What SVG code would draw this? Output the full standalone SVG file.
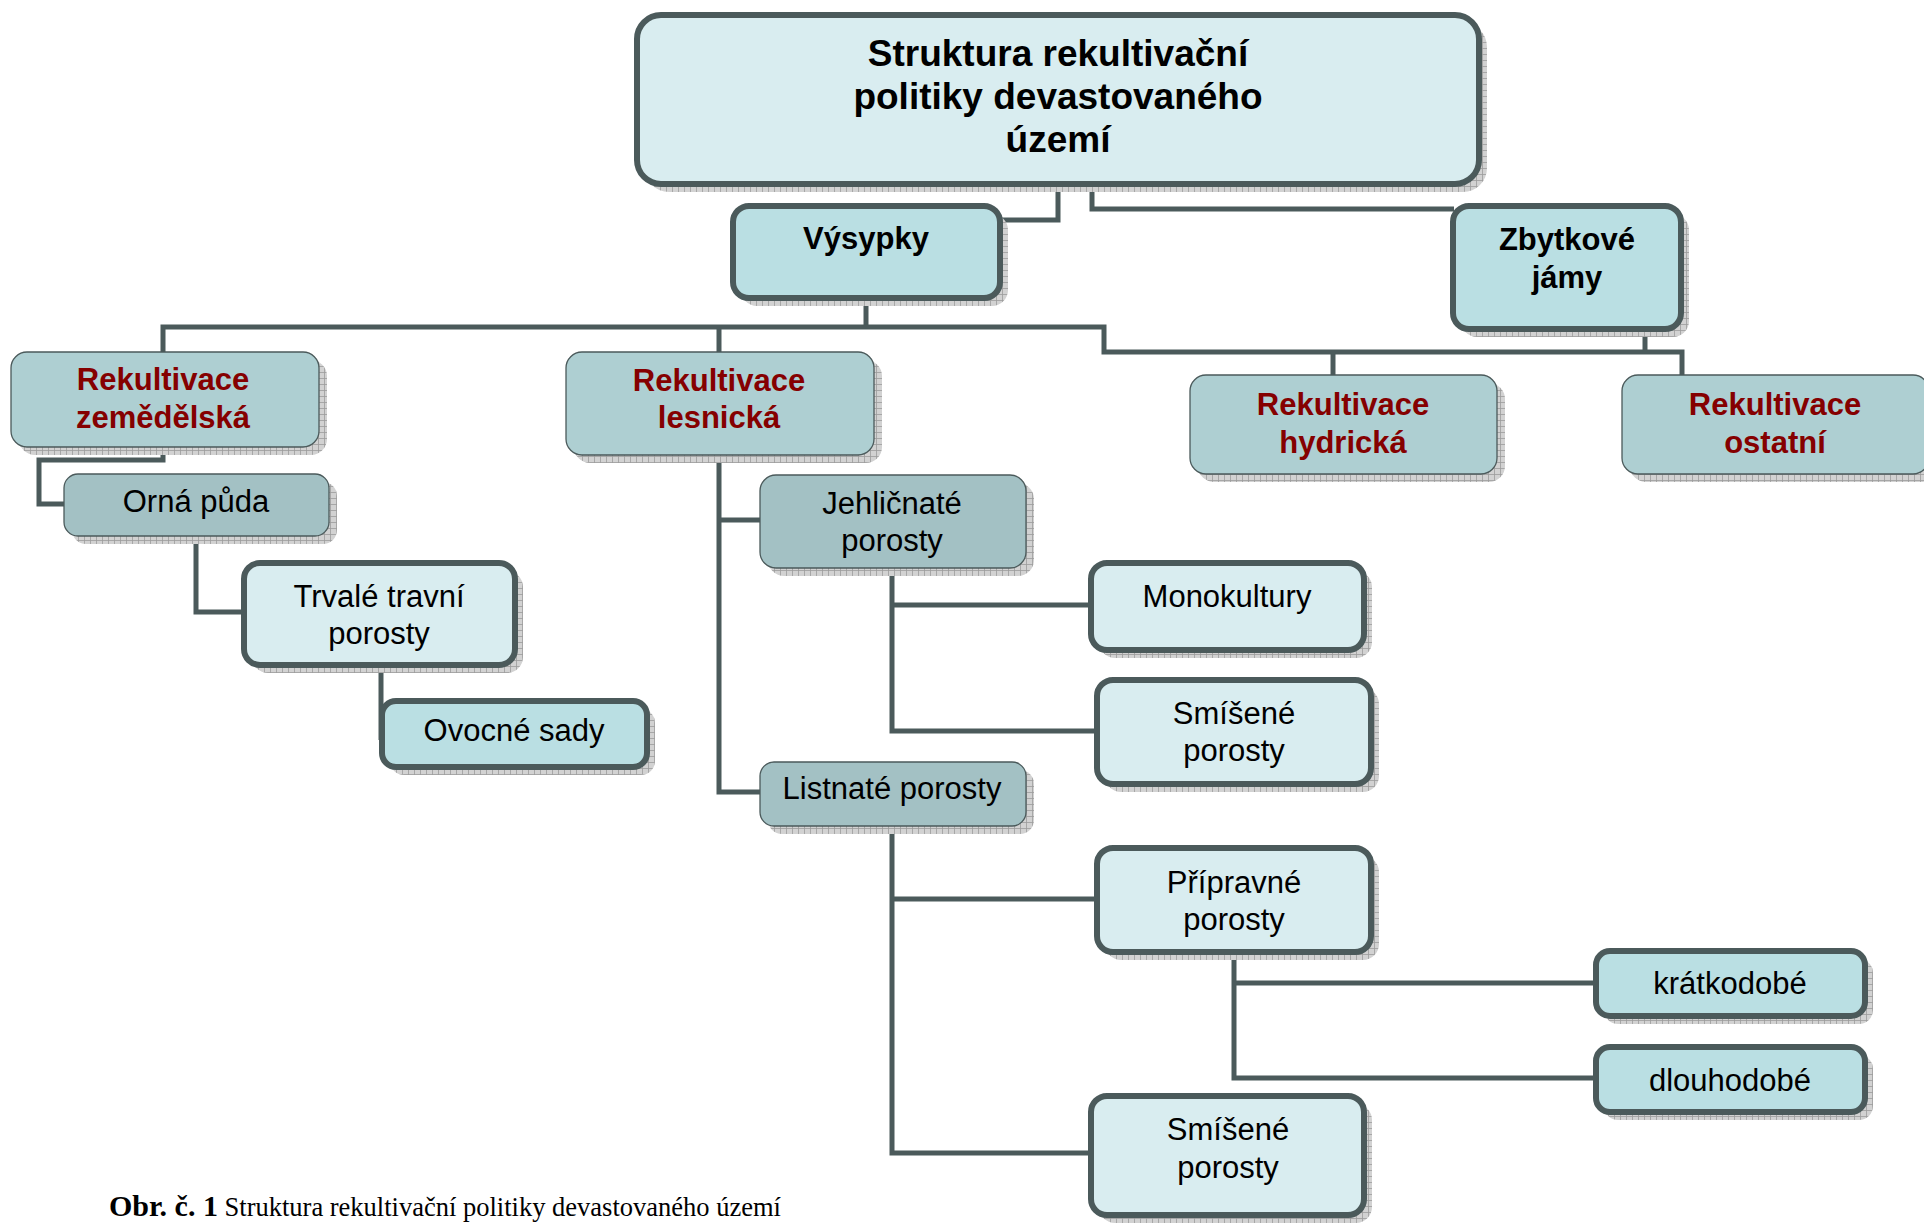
<svg xmlns="http://www.w3.org/2000/svg" width="1924" height="1223" viewBox="0 0 1924 1223">
<defs>
<pattern id="hatch" width="6" height="6" patternUnits="userSpaceOnUse">
<rect width="6" height="6" fill="#d2d2d2"/>
<path d="M0,0.5 H6 M0.5,0 V6" stroke="#9c9c9c" stroke-width="0.8"/>
</pattern>
<style>
.sh{fill:url(#hatch);}
.thick{stroke:#4b5a5b;stroke-width:6;}
.thin{stroke:#4b5a5b;stroke-width:1.3;}
.light{fill:#d9edf0;}
.mid{fill:#badfe3;}
.teal{fill:#aecfd2;}
.dark{fill:#a3c1c4;}
.conn{fill:none;stroke:#4b5a5b;stroke-width:5;}
text{font-family:"Liberation Sans",Arial,sans-serif;text-anchor:middle;font-size:31px;fill:#000;}
.b{font-weight:bold;}
.red{fill:#850000;font-weight:bold;}
.title{font-size:37px;font-weight:bold;}
.cap{font-family:"Liberation Serif","Times New Roman",serif;text-anchor:start;font-size:26.5px;}
</style>
</defs>
<rect width="1924" height="1223" fill="#ffffff"/>
<g id="connectors">
<path class="conn" d="M1058,184 V220 H1000"/>
<path class="conn" d="M1092,184 V209 H1454"/>
<path class="conn" d="M866,298 V327"/>
<path class="conn" d="M163,352 V327 H1104 V352 H1682 V375"/>
<path class="conn" d="M719,327 V352"/>
<path class="conn" d="M1333,352 V375"/>
<path class="conn" d="M1645,329 V352"/>
<path class="conn" d="M163,447 V460 H39 V504 H64"/>
<path class="conn" d="M196,536 V612 H244"/>
<path class="conn" d="M381,665 V740"/>
<path class="conn" d="M719,455 V792 H760 M719,520 H760"/>
<path class="conn" d="M892,568 V731 H1097 M892,605 H1091"/>
<path class="conn" d="M892,826 V1153 H1091 M892,899 H1097"/>
<path class="conn" d="M1234,952 V1078 H1596 M1234,983 H1596"/>
</g>
<g id="n-top">
<rect class="sh" x="645" y="23" width="842" height="169" rx="24"/>
<rect class="light thick" x="637" y="15" width="842" height="169" rx="24"/>
<text class="title" x="1058" y="66">Struktura rekultivační</text>
<text class="title" x="1058" y="109">politiky devastovaného</text>
<text class="title" x="1058" y="152">území</text>
</g>
<g id="n-vysypky">
<rect class="sh" x="741" y="214" width="267" height="92" rx="16"/>
<rect class="mid thick" x="733" y="206" width="267" height="92" rx="16"/>
<text class="b" x="866" y="249">Výsypky</text>
</g>
<g id="n-zbytkove">
<rect class="sh" x="1461" y="214" width="228" height="123" rx="16"/>
<rect class="mid thick" x="1453" y="206" width="228" height="123" rx="16"/>
<text class="b" x="1567" y="250">Zbytkové</text>
<text class="b" x="1567" y="288">jámy</text>
</g>
<g id="n-zemedelska">
<rect class="sh" x="19" y="360" width="308" height="95" rx="16"/>
<rect class="teal thin" x="11" y="352" width="308" height="95" rx="16"/>
<text class="red" x="163" y="390">Rekultivace</text>
<text class="red" x="163" y="428">zemědělská</text>
</g>
<g id="n-lesnicka">
<rect class="sh" x="574" y="360" width="308" height="103" rx="16"/>
<rect class="teal thin" x="566" y="352" width="308" height="103" rx="16"/>
<text class="red" x="719" y="391">Rekultivace</text>
<text class="red" x="719" y="428">lesnická</text>
</g>
<g id="n-hydricka">
<rect class="sh" x="1198" y="383" width="307" height="99" rx="16"/>
<rect class="teal thin" x="1190" y="375" width="307" height="99" rx="16"/>
<text class="red" x="1343" y="415">Rekultivace</text>
<text class="red" x="1343" y="453">hydrická</text>
</g>
<g id="n-ostatni">
<rect class="sh" x="1630" y="383" width="307" height="99" rx="16"/>
<rect class="teal thin" x="1622" y="375" width="307" height="99" rx="16"/>
<text class="red" x="1775" y="415">Rekultivace</text>
<text class="red" x="1775" y="453">ostatní</text>
</g>
<g id="n-orna">
<rect class="sh" x="72" y="482" width="265" height="62" rx="14"/>
<rect class="dark thin" x="64" y="474" width="265" height="62" rx="14"/>
<text x="196" y="512">Orná půda</text>
</g>
<g id="n-trvale">
<rect class="sh" x="252" y="571" width="271" height="102" rx="16"/>
<rect class="light thick" x="244" y="563" width="271" height="102" rx="16"/>
<text x="379" y="607">Trvalé travní</text>
<text x="379" y="644">porosty</text>
</g>
<g id="n-ovocne">
<rect class="sh" x="390" y="709" width="265" height="66" rx="14"/>
<rect class="mid thick" x="382" y="701" width="265" height="66" rx="14"/>
<text x="514" y="741">Ovocné sady</text>
</g>
<g id="n-jehlicnate">
<rect class="sh" x="768" y="483" width="266" height="93" rx="16"/>
<rect class="dark thin" x="760" y="475" width="266" height="93" rx="16"/>
<text x="892" y="514">Jehličnaté</text>
<text x="892" y="551">porosty</text>
</g>
<g id="n-monokultury">
<rect class="sh" x="1099" y="571" width="273" height="87" rx="16"/>
<rect class="light thick" x="1091" y="563" width="273" height="87" rx="16"/>
<text x="1227" y="607">Monokultury</text>
</g>
<g id="n-smisene1">
<rect class="sh" x="1105" y="688" width="274" height="104" rx="16"/>
<rect class="light thick" x="1097" y="680" width="274" height="104" rx="16"/>
<text x="1234" y="724">Smíšené</text>
<text x="1234" y="761">porosty</text>
</g>
<g id="n-listnate">
<rect class="sh" x="768" y="770" width="266" height="64" rx="14"/>
<rect class="dark thin" x="760" y="762" width="266" height="64" rx="14"/>
<text x="892" y="799">Listnaté porosty</text>
</g>
<g id="n-pripravne">
<rect class="sh" x="1105" y="856" width="274" height="104" rx="16"/>
<rect class="light thick" x="1097" y="848" width="274" height="104" rx="16"/>
<text x="1234" y="893">Přípravné</text>
<text x="1234" y="930">porosty</text>
</g>
<g id="n-kratkodobe">
<rect class="sh" x="1604" y="959" width="269" height="65" rx="14"/>
<rect class="mid thick" x="1596" y="951" width="269" height="65" rx="14"/>
<text x="1730" y="994">krátkodobé</text>
</g>
<g id="n-dlouhodobe">
<rect class="sh" x="1604" y="1055" width="269" height="65" rx="14"/>
<rect class="mid thick" x="1596" y="1047" width="269" height="65" rx="14"/>
<text x="1730" y="1091">dlouhodobé</text>
</g>
<g id="n-smisene2">
<rect class="sh" x="1099" y="1104" width="273" height="119" rx="16"/>
<rect class="light thick" x="1091" y="1096" width="273" height="119" rx="16"/>
<text x="1228" y="1140">Smíšené</text>
<text x="1228" y="1178">porosty</text>
</g>
<text class="cap" x="109" y="1216"><tspan font-weight="bold" font-size="30">Obr. č. 1</tspan> Struktura rekultivační politiky devastovaného území</text>
</svg>
